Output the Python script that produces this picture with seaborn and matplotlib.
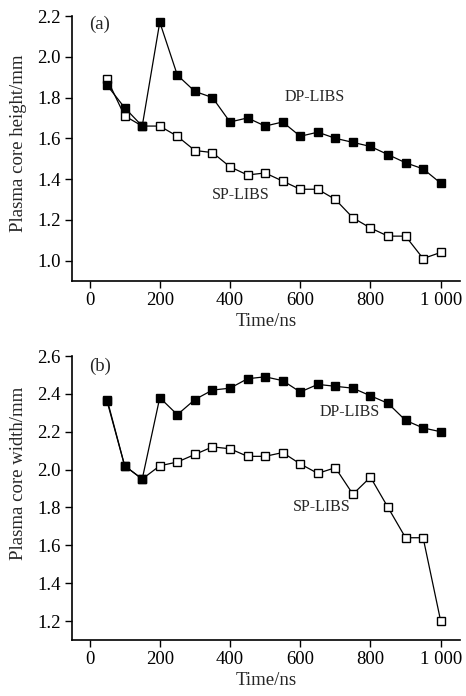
import matplotlib
matplotlib.use("Agg")
import matplotlib.pyplot as plt
import seaborn as sns
import pandas as pd

time_ns = [50, 100, 150, 200, 250, 300, 350, 400, 450, 500,
           550, 600, 650, 700, 750, 800, 850, 900, 950, 1000]
dp_height = [1.86, 1.75, 1.66, 2.17, 1.91, 1.83, 1.80, 1.68, 1.70, 1.66,
             1.68, 1.61, 1.63, 1.60, 1.58, 1.56, 1.52, 1.48, 1.45, 1.38]
sp_height = [1.89, 1.71, 1.66, 1.66, 1.61, 1.54, 1.53, 1.46, 1.42, 1.43,
             1.39, 1.35, 1.35, 1.30, 1.21, 1.16, 1.12, 1.12, 1.01, 1.04]
dp_width = [2.37, 2.02, 1.95, 2.38, 2.29, 2.37, 2.42, 2.43, 2.48, 2.49,
            2.47, 2.41, 2.45, 2.44, 2.43, 2.39, 2.35, 2.26, 2.22, 2.20]
sp_width = [2.36, 2.02, 1.95, 2.02, 2.04, 2.08, 2.12, 2.11, 2.07, 2.07,
            2.09, 2.03, 1.98, 2.01, 1.87, 1.96, 1.80, 1.64, 1.64, 1.20]

x_ticks = [0, 200, 400, 600, 800, 1000]
x_ticklabels = ["0", "200", "400", "600", "800", "1 000"]
h_ticks = [1.0, 1.2, 1.4, 1.6, 1.8, 2.0, 2.2]
w_ticks = [1.2, 1.4, 1.6, 1.8, 2.0, 2.2, 2.4, 2.6]

sns.set_theme(style="ticks")
plt.rcParams['font.family'] = ['Liberation Serif', 'DejaVu Serif']

fig = plt.figure(figsize=(4.66, 6.96), dpi=100)
fig.patch.set_facecolor('white')

ax1 = fig.add_axes([0.1545, 0.5963, 0.8326, 0.3807])
ax2 = fig.add_axes([0.1545, 0.0805, 0.8326, 0.408])

df_h = pd.DataFrame({"t": time_ns, "dp": dp_height, "sp": sp_height})
df_w = pd.DataFrame({"t": time_ns, "dp": dp_width, "sp": sp_width})

common = dict(color='black', linewidth=0.9, marker='s', markersize=5.2,
              markeredgecolor='black', markeredgewidth=1.0)

for ax, df in [(ax1, df_h), (ax2, df_w)]:
    sns.lineplot(data=df, x="t", y="sp", ax=ax, markerfacecolor='white', **common)
    sns.lineplot(data=df, x="t", y="dp", ax=ax, markerfacecolor='black', **common)
    sns.despine(ax=ax)
    ax.set_xlim(-50, 1055)
    ax.set_xticks(x_ticks)
    ax.set_xticklabels(x_ticklabels)
    ax.set_xlabel("Time/ns", fontsize=13.5, labelpad=3)
    ax.tick_params(axis='both', direction='out', length=5, width=1.0,
                   labelsize=13.5, pad=3, colors='black')
    for s in ['left', 'bottom']:
        ax.spines[s].set_linewidth(1.2)
        ax.spines[s].set_color('black')
    ax.set_facecolor('white')

ax1.set_ylim(0.9, 2.2)
ax1.set_yticks(h_ticks)
ax1.set_yticklabels([f"{v:.1f}" for v in h_ticks])
ax1.set_ylabel("Plasma core height/mm", fontsize=13.5)
ax1.yaxis.set_label_coords(-0.115, 0.52)
ax1.text(0.045, 1.0, "(a)", transform=ax1.transAxes, fontsize=13.5, va='top', ha='left')
ax1.text(640, 1.805, "DP-LIBS", fontsize=11.5, ha='center', va='center')
ax1.text(430, 1.32, "SP-LIBS", fontsize=11.5, ha='center', va='center')

ax2.set_ylim(1.1, 2.6)
ax2.set_yticks(w_ticks)
ax2.set_yticklabels([f"{v:.1f}" for v in w_ticks])
ax2.set_ylabel("Plasma core width/mm", fontsize=13.5)
ax2.yaxis.set_label_coords(-0.115, 0.585)
ax2.text(0.045, 0.995, "(b)", transform=ax2.transAxes, fontsize=13.5, va='top', ha='left')
ax2.text(740, 2.305, "DP-LIBS", fontsize=11.5, ha='center', va='center')
ax2.text(660, 1.805, "SP-LIBS", fontsize=11.5, ha='center', va='center')

fig.savefig("out.png", dpi=100, facecolor='white')
